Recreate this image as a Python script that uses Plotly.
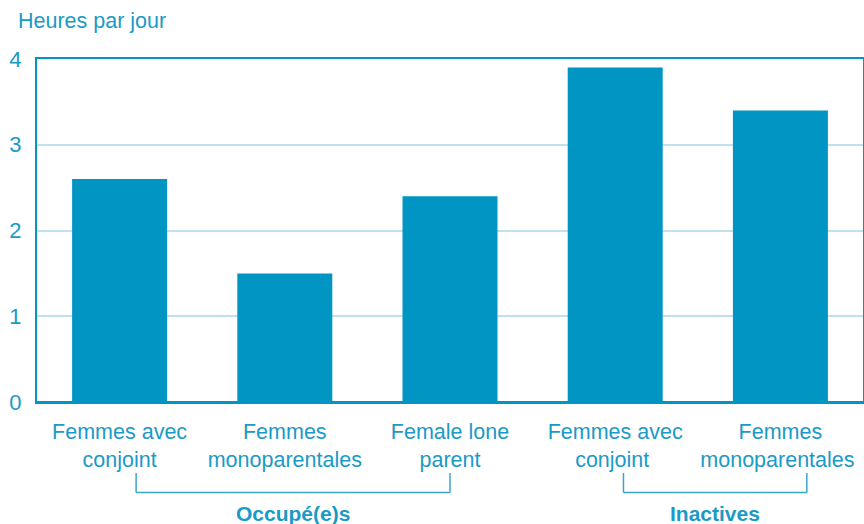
import plotly.graph_objects as go

# categories and values (hours per day)
categories = [
    "Femmes avec<br>conjoint",
    "Femmes<br>monoparentales",
    "Female lone<br>parent",
    "Femmes avec<br>conjoint ",
    "Femmes<br>monoparentales ",
]
hours = [2.6, 1.5, 2.4, 3.9, 3.4]
y_ticks = [0, 1, 2, 3, 4]

group_names = ["Occupé(e)s", "Inactives"]
group_spans = [(0.1, 2.0), (3.05, 4.16)]  # bracket ends in category index units

BLUE = "#0095c3"
TEXT = "#1b9ac6"
GRID = "#bfe2f0"
FONT = "Liberation Sans, Arial, sans-serif"

fig = go.Figure()
fig.add_trace(go.Bar(
    x=categories,
    y=hours,
    marker=dict(color=BLUE, line=dict(width=0)),
    hoverinfo="x+y",
))

# brackets under the category labels
y_top, y_bot = -0.207, -0.264
for name, (a, b) in zip(group_names, group_spans):
    for x0, y0, x1, y1 in [(a, y_top, a, y_bot), (a, y_bot, b, y_bot), (b, y_bot, b, y_top)]:
        fig.add_shape(type="line", xref="x", yref="paper",
                      x0=x0, y0=y0, x1=x1, y1=y1,
                      line=dict(color="#3aa5cc", width=1.5))
    fig.add_annotation(x=(a + b) / 2, y=-0.324, xref="x", yref="paper",
                       text=f"<b>{name}</b>", showarrow=False,
                       font=dict(size=21, color=TEXT, family=FONT),
                       xanchor="center", yanchor="middle")

fig.update_layout(
    width=864,
    height=524,
    margin=dict(l=37, r=1, t=59, b=122, autoexpand=False),
    paper_bgcolor="white",
    plot_bgcolor="white",
    bargap=0.425,
    showlegend=False,
    font=dict(family=FONT, color=TEXT, size=22),
    title=dict(text="Heures par jour", x=18 / 864, xanchor="left",
               y=1 - 20 / 524, yanchor="middle", yref="container",
               font=dict(size=21.5, color=TEXT, family=FONT)),
)

fig.update_xaxes(
    automargin=False,
    showline=True, linecolor=BLUE, linewidth=2, mirror=True,
    showgrid=False, ticks="", ticklabelstandoff=9,
    tickfont=dict(size=21.5, color=TEXT),
)
fig.update_yaxes(
    automargin=False,
    range=[0, 4], tickvals=y_ticks,
    showline=True, linecolor=BLUE, linewidth=2, mirror=True,
    showgrid=True, gridcolor=GRID, gridwidth=2,
    zeroline=True, zerolinecolor=BLUE, zerolinewidth=3,
    ticks="", ticklabelstandoff=9,
    tickfont=dict(size=22, color=TEXT),
)

fig.write_html("out.html", config={"displayModeBar": False},
               post_script="document.body.style.margin='0px';")
